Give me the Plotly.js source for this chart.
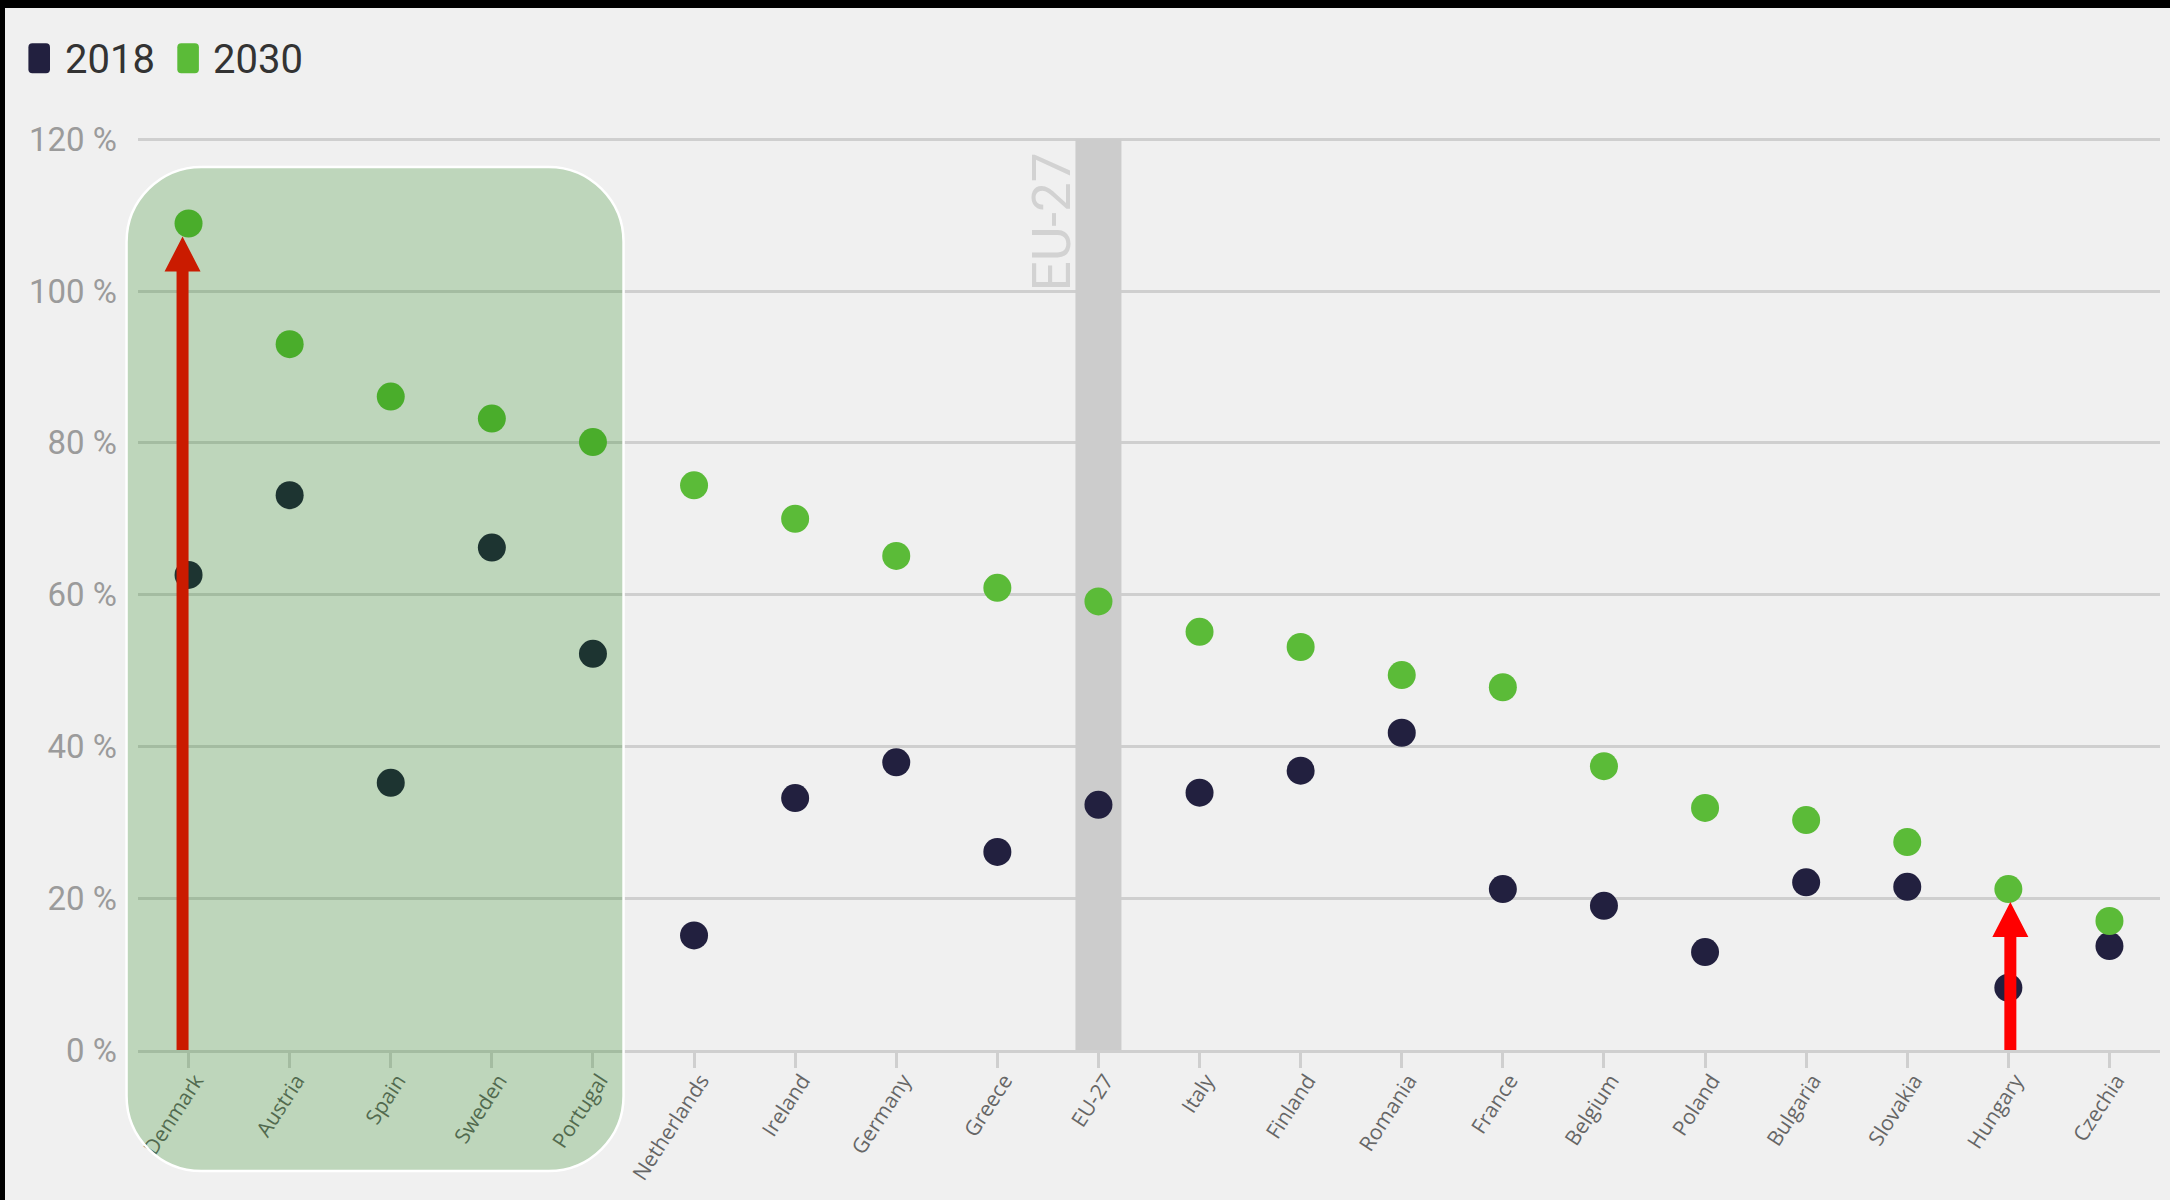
<!DOCTYPE html>
<html>
<head>
<meta charset="utf-8">
<script src="https://cdn.plot.ly/plotly-3.0.1.min.js"></script>
<style>
  html, body { margin: 0; padding: 0; background: #000; width: 2170px; height: 1200px; overflow: hidden; }
  #chart { position: absolute; left: 5px; top: 8px; width: 2165px; height: 1192px; }
</style>
</head>
<body>
<div id="chart"></div>
<script>
// Share of renewables per country, 2018 actual vs 2030 target
const categories = ['Denmark', 'Austria', 'Spain', 'Sweden', 'Portugal', 'Netherlands', 'Ireland',
  'Germany', 'Greece', 'EU-27', 'Italy', 'Finland', 'Romania', 'France', 'Belgium', 'Poland',
  'Bulgaria', 'Slovakia', 'Hungary', 'Czechia'];
const share2018 = [62.6, 73.1, 35.2, 66.2, 52.2, 15.1, 33.2, 37.9, 26.1, 32.3, 33.9, 36.8, 41.8,
  21.2, 19.0, 12.9, 22.1, 21.5, 8.2, 13.7];
const share2030 = [108.9, 93.0, 86.1, 83.2, 80.1, 74.4, 70.0, 65.1, 60.9, 59.1, 55.1, 53.1, 49.4,
  47.8, 37.4, 31.9, 30.3, 27.4, 21.2, 17.0];
const seriesNames = ['2018', '2030'];
const yTickVals = [0, 20, 40, 60, 80, 100, 120];
const yTickText = yTickVals.map(v => v + ' %');
const highlighted = ['Denmark', 'Hungary'];
const averageLabel = 'EU-27';

// Styling / geometry
const colors = { s2018: '#22203f', s2030: '#5bbb38', arrow: '#ff0000', band: '#cccccc' };
const W = 2165, H = 1192;
const M = { l: 133, r: 10, t: 129, b: 150 };
const plotW = W - M.l - M.r, plotH = H - M.t - M.b;
const yTop = 120;            // last gridline
const yRange = [0, 120.3];   // a touch of headroom so the top gridline is drawn
const pxPerUnit = plotH / (yRange[1] - yRange[0]);
const markerSize = 28;

const paperX = px => (px - M.l) / plotW;
const paperY = py => 1 - (py - M.t) / plotH;

const traces = [
  {
    type: 'scatter', mode: 'markers', name: seriesNames[0],
    x: categories, y: share2018,
    marker: { size: markerSize, color: colors.s2018 },
    cliponaxis: false, showlegend: false, hoverinfo: 'x+y'
  },
  {
    type: 'scatter', mode: 'markers', name: seriesNames[1],
    x: categories, y: share2030,
    marker: { size: markerSize, color: colors.s2030 },
    cliponaxis: false, showlegend: false, hoverinfo: 'x+y'
  }
];

const shapes = [];

// grey band behind the EU average column
const euIdx = categories.indexOf(averageLabel);
shapes.push({
  type: 'rect', layer: 'between',
  xref: 'x', xsizemode: 'pixel', xanchor: euIdx, x0: -23, x1: 23,
  yref: 'y', y0: 0, y1: yTop,
  fillcolor: colors.band, line: { width: 0 }
});

// red arrows rising from 0 to the 2030 target
const arrowOffsets = { Denmark: -6, Hungary: 2 };
highlighted.forEach(name => {
  const i = categories.indexOf(name);
  const dx = arrowOffsets[name];
  const tip = share2030[i] - (markerSize / 2 - 1) / pxPerUnit;
  const base = tip - 35 / pxPerUnit;
  const sw = 6, hw = 18;
  const path = `M ${dx - sw},0 L ${dx - sw},${base} L ${dx - hw},${base} L ${dx},${tip} ` +
               `L ${dx + hw},${base} L ${dx + sw},${base} L ${dx + sw},0 Z`;
  shapes.push({
    type: 'path', layer: 'above', path: path,
    xref: 'x', xsizemode: 'pixel', xanchor: i,
    yref: 'y',
    fillcolor: colors.arrow, line: { width: 0 }
  });
});

// rounded green panel over the five leading countries (paper-referenced so it can
// reach down over the tick labels)
(function () {
  const L = -62, R = 435, T = 883, B = -121, r = 75, k = r * 0.5523;
  const p = [
    `M ${L + r},${T}`, `L ${R - r},${T}`,
    `C ${R - r + k},${T} ${R},${T - r + k} ${R},${T - r}`,
    `L ${R},${B + r}`,
    `C ${R},${B + r - k} ${R - r + k},${B} ${R - r},${B}`,
    `L ${L + r},${B}`,
    `C ${L + r - k},${B} ${L},${B + r - k} ${L},${B + r}`,
    `L ${L},${T - r}`,
    `C ${L},${T - r + k} ${L + r - k},${T} ${L + r},${T}`, 'Z'
  ].join(' ');
  const firstCenter = 0.5 / categories.length; // paper x of the first category
  shapes.push({
    type: 'path', layer: 'above', path: p,
    xref: 'paper', xsizemode: 'pixel', xanchor: firstCenter,
    yref: 'paper', ysizemode: 'pixel', yanchor: 0,
    fillcolor: 'rgba(12,122,0,0.22)', line: { color: '#ffffff', width: 2.5 }
  });
})();

// legend swatches (rounded bars) and labels
const annotations = [];
const legendItems = [
  { name: seriesNames[0], color: colors.s2018, sx: 34.2, tx: 57.5 },
  { name: seriesNames[1], color: colors.s2030, sx: 183.1, tx: 205.9 }
];
legendItems.forEach(it => {
  const hw = 10.8, hh = 15, r = 4;
  const p = `M ${-hw + r},${hh} L ${hw - r},${hh} Q ${hw},${hh} ${hw},${hh - r} L ${hw},${-hh + r} ` +
            `Q ${hw},${-hh} ${hw - r},${-hh} L ${-hw + r},${-hh} Q ${-hw},${-hh} ${-hw},${-hh + r} ` +
            `L ${-hw},${hh - r} Q ${-hw},${hh} ${-hw + r},${hh} Z`;
  shapes.push({
    type: 'path', layer: 'above', path: p,
    xref: 'paper', xsizemode: 'pixel', xanchor: paperX(it.sx),
    yref: 'paper', ysizemode: 'pixel', yanchor: paperY(50.3),
    fillcolor: it.color, line: { width: 0 }
  });
  annotations.push({
    xref: 'paper', yref: 'paper', x: paperX(it.tx), y: paperY(51),
    xanchor: 'left', yanchor: 'middle', showarrow: false,
    text: it.name, font: { family: 'Roboto, sans-serif', size: 40, color: '#333333' }
  });
});

// vertical label next to the EU band
annotations.push({
  xref: 'x', yref: 'y', x: euIdx, y: yTop,
  xanchor: 'right', yanchor: 'top', xshift: -14, yshift: -11,
  textangle: -90, showarrow: false,
  text: averageLabel, font: { family: 'Roboto, sans-serif', size: 53, color: '#d2d2d2' }
});

const layout = {
  width: W, height: H,
  margin: M,
  paper_bgcolor: '#f0f0f0',
  plot_bgcolor: '#f0f0f0',
  showlegend: false,
  xaxis: {
    type: 'category',
    categoryorder: 'array', categoryarray: categories,
    range: [-0.5, categories.length - 0.5],
    showgrid: false, zeroline: false,
    showline: true, linecolor: '#cfcfcf', linewidth: 3,
    ticks: 'outside', ticklen: 15, tickwidth: 3, tickcolor: '#cfcfcf',
    tickangle: -57,
    ticklabelstandoff: -8, ticklabelshift: 7,
    tickfont: { family: 'Open Sans, sans-serif', size: 21, color: '#666666' },
    fixedrange: true
  },
  yaxis: {
    range: yRange,
    tickmode: 'array', tickvals: yTickVals, ticktext: yTickText,
    showgrid: true, gridcolor: '#cfcfcf', gridwidth: 3,
    zeroline: false, showline: false,
    ticks: '', ticklabelstandoff: 20,
    tickfont: { family: 'Roboto, sans-serif', size: 33, color: '#9b9b9b' },
    fixedrange: true
  },
  shapes: shapes,
  annotations: annotations
};

Plotly.newPlot('chart', traces, layout, { displayModeBar: false, staticPlot: true });
</script>
</body>
</html>
